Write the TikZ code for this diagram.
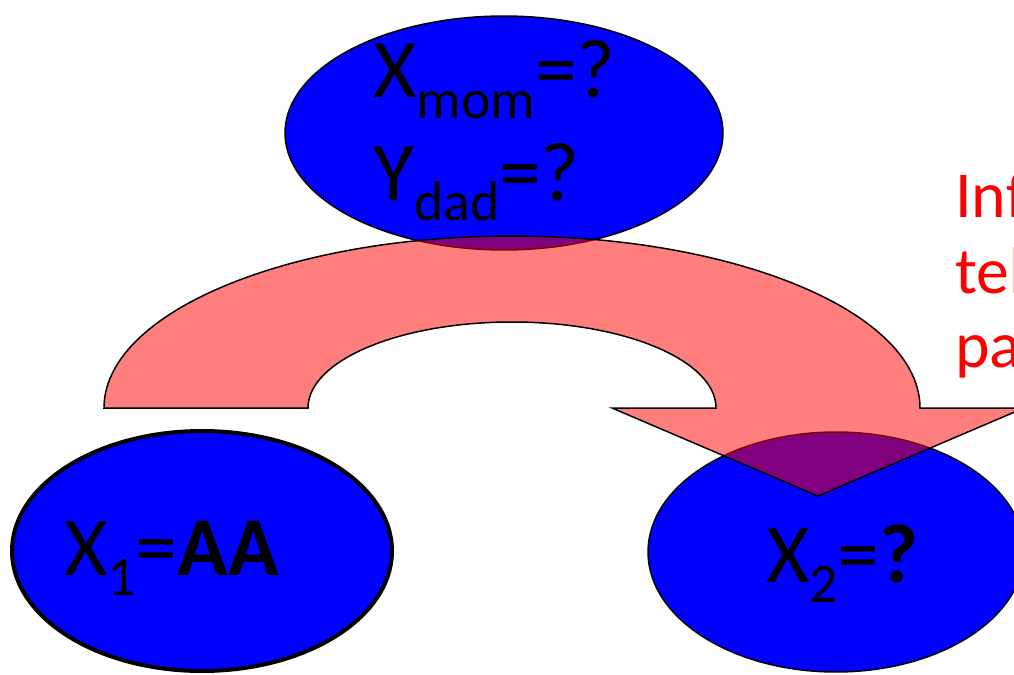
\documentclass[tikz,border=0pt]{standalone}
\usepackage{fontspec}
\setmainfont{Carlito}
\usetikzlibrary{shapes.geometric}
\newcommand{\lowsub}[1]{\raisebox{-11.9pt}{\fontsize{31.7pt}{36pt}\selectfont #1}}
\begin{document}
\begin{tikzpicture}[x=0.02cm, y=0.02cm,
    gene/.style={ellipse, draw=black, fill=blue, line width=0.85pt, inner sep=0pt},
    genotype/.style={font=\fontsize{47.6pt}{57pt}\selectfont, anchor=base west, inner sep=0pt},
    note/.style={font=\fontsize{37.4pt}{42pt}\selectfont, text=red, anchor=base west, inner sep=0pt}]
    \useasboundingbox (0,0) rectangle (1014,674);
    \clip (0,0) rectangle (1014,674);

    % Genotype ellipses
    \node[gene, minimum width=8.76cm, minimum height=4.68cm] (parents) at (504,541) {};
    \node[gene, line width=2.3pt, minimum width=7.6cm, minimum height=4.8cm] (child1) at (202,123) {};
    \node[gene, minimum width=7.52cm, minimum height=4.8cm] (child2) at (836,122) {};

    % Inheritance arrow
    \draw[line width=0.85pt, fill=red, fill opacity=0.5]
      (104,266) arc[start angle=180, end angle=0, x radius=408, y radius=172]
      -- (1024,266) -- (818,178) -- (612,266) -- (716,266)
      arc[start angle=0, end angle=180, x radius=204, y radius=86] -- cycle;

    % Genotype labels
    \node[genotype] (mom) at (373,576) {X\lowsub{mom}=?};
    \node[genotype] (dad) at (373,474) {Y\lowsub{dad}=?};
    \node[genotype] (x1) at (64,99) {X\lowsub{1}=\textbf{AA}};
    \node[genotype] (x2) at (766,92) {X\lowsub{2}=\textbf{?}};

    % Note at the right edge
    \node[note] (inf) at (955,457) {Inf};
    \node[note] (tel) at (955,381) {tel};
    \node[note] (pa) at (955,307) {pa};
\end{tikzpicture}
\end{document}
